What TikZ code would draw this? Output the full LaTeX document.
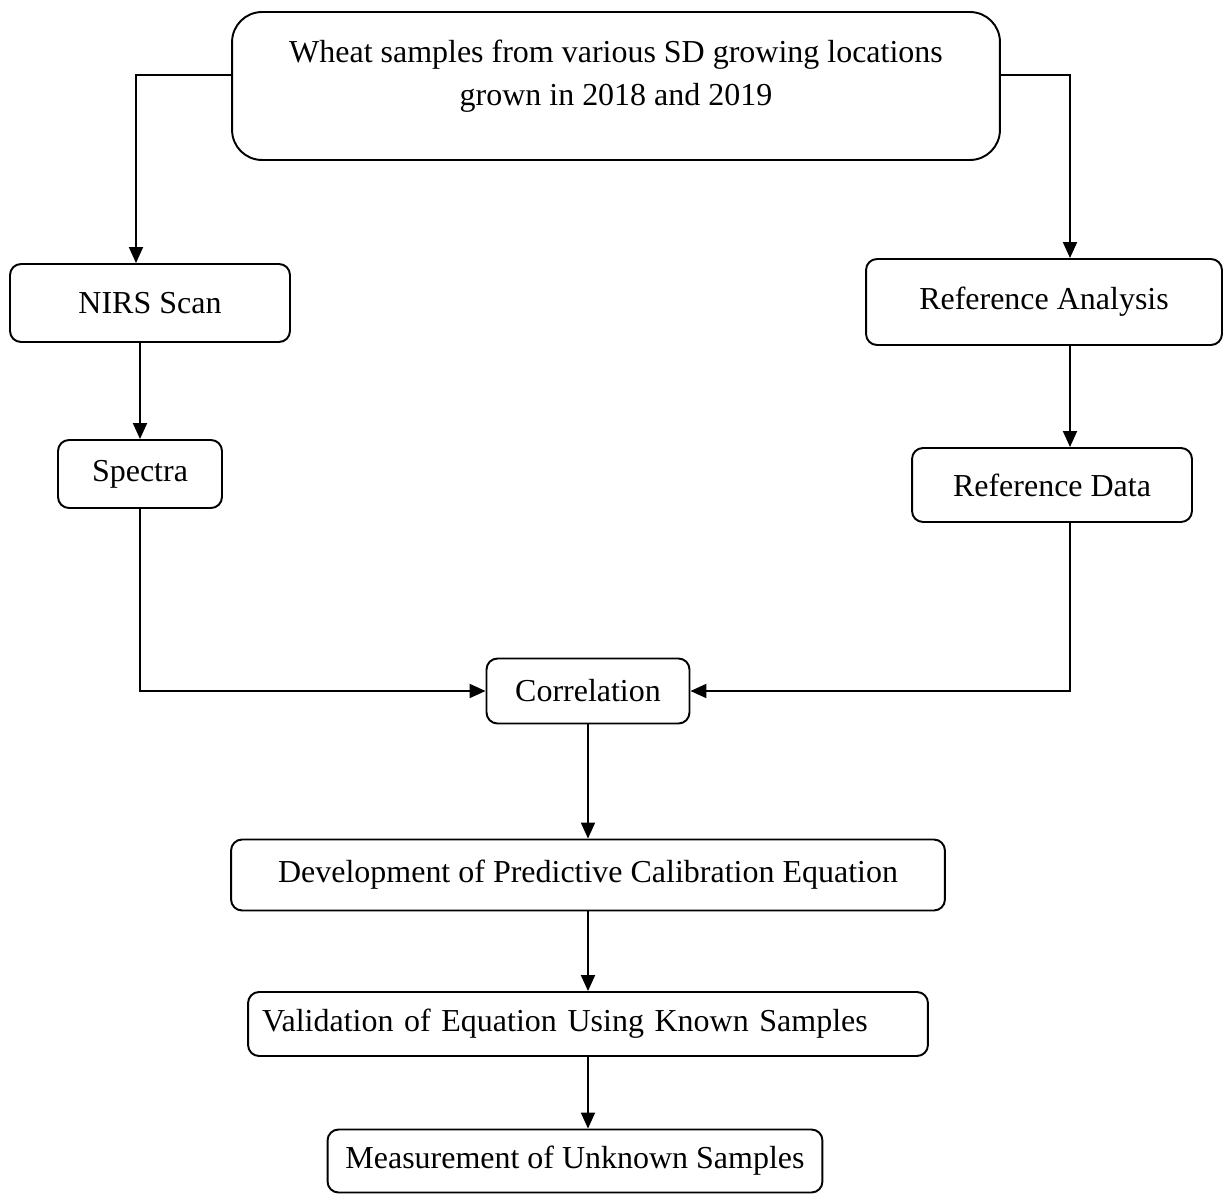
\documentclass[tikz,border=0pt]{standalone}
\usepackage{fontspec}
\setmainfont{Liberation Serif}
\usetikzlibrary{arrows.meta}
\begin{document}
\begin{tikzpicture}[x=0.02cm,y=-0.02cm,
  every node/.style={font=\fontsize{18.2}{24.4}\selectfont},
  stage/.style={draw,line width=1.1pt,rounded corners=0.22cm,inner sep=0pt},
  flow/.style={-{Triangle[length=0.32cm,width=0.28cm]},line width=1.1pt}]
  \useasboundingbox (0,0) rectangle (1224,1196);

  \node[stage,rounded corners=0.6cm,minimum width=15.36cm,minimum height=2.96cm] (wheat) at (616,86) {};
  \node[align=center] (wheattext) at (616,76) {Wheat samples from various SD growing locations\\grown in 2018 and 2019};
  \node[stage,minimum width=5.6cm,minimum height=1.56cm] (nirs) at (150,303) {NIRS Scan};
  \node[stage,minimum width=7.12cm,minimum height=1.72cm] (refanalysis) at (1044,302) {Reference Analysis};
  \node[stage,minimum width=3.28cm,minimum height=1.36cm] (spectra) at (140,474) {Spectra};
  \node[stage,minimum width=5.6cm,minimum height=1.48cm] (refdata) at (1052,485) {Reference Data};
  \node[stage,minimum width=4.06cm,minimum height=1.3cm] (correl) at (588,691) {Correlation};
  \node[stage,minimum width=14.28cm,minimum height=1.42cm] (develop) at (588,875) {Development of Predictive Calibration Equation};
  \node[stage,text width=13.04cm,inner xsep=0.28cm,align=left,minimum height=1.28cm] (valid) at (588,1024) {Validation of Equation Using Known Samples};
  \node[stage,minimum width=9.9cm,minimum height=1.26cm] (measure) at (575,1161) {Measurement of Unknown Samples};

  \coordinate (lcorner) at (136,75);
  \coordinate (rcorner) at (1070,75);

  \draw[flow] (lcorner -| wheat.west) -- (lcorner) -- (lcorner |- nirs.north);
  \draw[flow] (rcorner -| wheat.east) -- (rcorner) -- (rcorner |- refanalysis.north);
  \draw[flow] (nirs.south -| spectra.north) -- (spectra.north);
  \draw[flow] (rcorner |- refanalysis.south) -- (rcorner |- refdata.north);
  \draw[flow] (spectra.south) |- (correl.west);
  \draw[flow] (rcorner |- refdata.south) |- (correl.east);
  \draw[flow] (correl.south) -- (develop.north);
  \draw[flow] (develop.south) -- (valid.north);
  \draw[flow] (valid.south) -- (valid.south |- measure.north);
\end{tikzpicture}
\end{document}
